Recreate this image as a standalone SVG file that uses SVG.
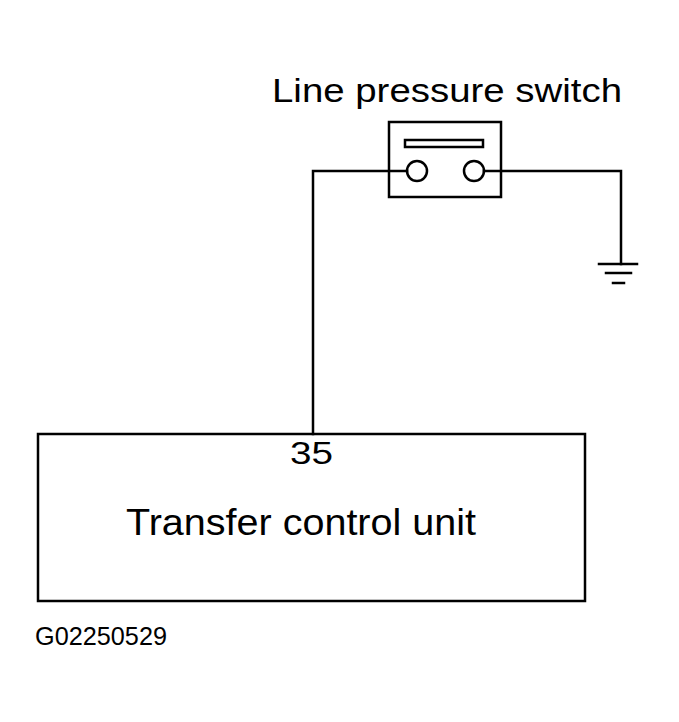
<svg xmlns="http://www.w3.org/2000/svg" width="679" height="722" viewBox="0 0 679 722">
<style>
.ln{fill:none;stroke:#000;stroke-width:2.5;stroke-linecap:square}
.bx{fill:none;stroke:#000;stroke-width:2.5}
.t{font-family:"Liberation Sans",Arial,sans-serif;fill:#000}
</style>
<rect width="679" height="722" fill="#fff"/>
<g id="connectors">
<polyline class="ln" points="407,171 313,171 313,434"/>
<polyline class="ln" points="484,171 621,171 621,264"/>
</g>
<g id="ground">
<line class="ln" x1="599" y1="264" x2="637" y2="264"/>
<line class="ln" x1="606" y1="273" x2="631" y2="273"/>
<line class="ln" x1="613" y1="283" x2="624" y2="283"/>
</g>
<g id="switch">
<text class="t" x="272" y="102" font-size="34" textLength="350" lengthAdjust="spacingAndGlyphs">Line pressure switch</text>
<rect class="bx" x="389" y="122" width="112" height="75"/>
<rect class="bx" x="405" y="140" width="78" height="7"/>
<circle class="bx" cx="417" cy="171" r="10"/>
<circle class="bx" cx="474" cy="171" r="10"/>
</g>
<g id="tcu">
<rect class="bx" x="38" y="434" width="547" height="167"/>
<text class="t" x="290" y="464" font-size="31" textLength="43" lengthAdjust="spacingAndGlyphs">35</text>
<text class="t" x="126" y="535" font-size="36" textLength="350" lengthAdjust="spacingAndGlyphs">Transfer control unit</text>
</g>
<text class="t" x="35" y="645" font-size="25" textLength="132" lengthAdjust="spacingAndGlyphs">G02250529</text>
</svg>
